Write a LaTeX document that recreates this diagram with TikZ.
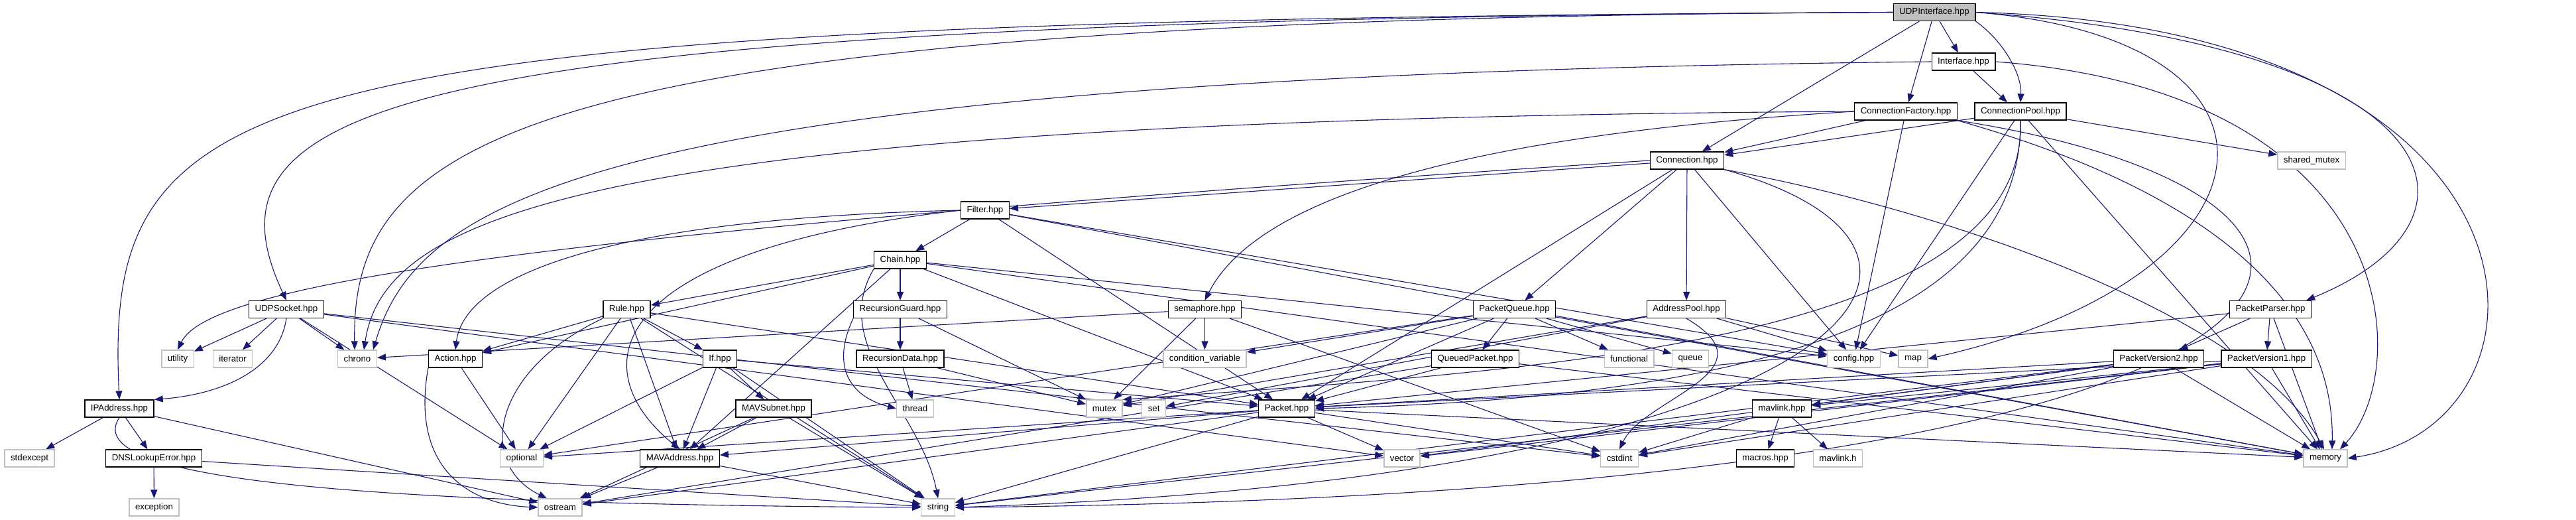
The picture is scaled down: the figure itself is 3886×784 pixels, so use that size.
\documentclass[tikz,border=0pt]{standalone}
\usepackage{fontspec}
\setmainfont{Liberation Sans}
\usetikzlibrary{arrows.meta}
\definecolor{edgeblue}{HTML}{191970}
\definecolor{sysgrey}{HTML}{BFBFBF}
\pgfdeclarelayer{edges}
\pgfsetlayers{edges,main}

\begin{document}
\begin{tikzpicture}[x=1pt, y=-1pt, >={Triangle[length=13pt,width=10pt]},
  file/.style={draw=black, line width=1.3pt, fill=white, minimum height=26pt,
    inner xsep=9pt, inner ysep=0pt, font=\fontsize{13.3}{16}\selectfont},
  sysfile/.style={file, draw=sysgrey},
  rootfile/.style={file, fill=sysgrey},
  dep/.style={->, edgeblue, line width=1.1pt}]
  \useasboundingbox (0,0) rectangle (3886,784);
  % files, one row per include depth
  \node[rootfile] (udpif) at (2918,18.5) {UDPInterface.hpp};
  \node[file] (iface) at (2962,93) {Interface.hpp};
  \node[file] (cfact) at (2875,168) {ConnectionFactory.hpp};
  \node[file] (cpool) at (3048,168) {ConnectionPool.hpp};
  \node[file] (conn) at (2545,242) {Connection.hpp};
  \node[sysfile] (shmutex) at (3487,242) {shared\_mutex};
  \node[file] (filter) at (1486,317) {Filter.hpp};
  \node[file] (chain) at (1358,392) {Chain.hpp};
  \node[file] (udpsock) at (432,466.5) {UDPSocket.hpp};
  \node[file] (rule) at (945.5,466.5) {Rule.hpp};
  \node[file] (rguard) at (1358,466.5) {RecursionGuard.hpp};
  \node[file] (sema) at (1817.5,466.5) {semaphore.hpp};
  \node[file] (pqueue) at (2284.5,466.5) {PacketQueue.hpp};
  \node[file] (apool) at (2544,466.5) {AddressPool.hpp};
  \node[file] (pparser) at (3425,466.5) {PacketParser.hpp};
  \node[sysfile] (utility) at (268,541) {utility};
  \node[sysfile] (iterator) at (351,541) {iterator};
  \node[sysfile] (chrono) at (539,541) {chrono};
  \node[file] (action) at (687,541) {Action.hpp};
  \node[file] (ifhpp) at (1086,541) {If.hpp};
  \node[file] (rdata) at (1358,541) {RecursionData.hpp};
  \node[sysfile] (condvar) at (1817.5,541) {condition\_variable};
  \node[file] (qpacket) at (2225.5,541) {QueuedPacket.hpp};
  \node[sysfile] (functional) at (2457.6,541) {functional};
  \node[sysfile] (queue) at (2550,541) {queue};
  \node[sysfile] (config) at (2796.5,541) {config.hpp};
  \node[sysfile] (map) at (2886,541) {map};
  \node[file] (pv2) at (3256.5,541) {PacketVersion2.hpp};
  \node[file] (pv1) at (3419,541) {PacketVersion1.hpp};
  \node[file] (ipaddr) at (180,616) {IPAddress.hpp};
  \node[file] (mavsubnet) at (1167,616) {MAVSubnet.hpp};
  \node[sysfile] (thread) at (1380.5,616) {thread};
  \node[sysfile] (mutex) at (1666,616) {mutex};
  \node[sysfile] (set) at (1740.6,616) {set};
  \node[file] (packet) at (1941,616) {Packet.hpp};
  \node[file] (mavlinkhpp) at (2688,616) {mavlink.hpp};
  \node[sysfile] (stdexcept) at (44.5,691) {stdexcept};
  \node[file] (dnserr) at (232,691) {DNSLookupError.hpp};
  \node[sysfile] (optional) at (787,691) {optional};
  \node[file] (mavaddr) at (1025.5,691) {MAVAddress.hpp};
  \node[sysfile] (vector) at (2115,691) {vector};
  \node[sysfile] (cstdint) at (2443,691) {cstdint};
  \node[file] (macros) at (2663,691) {macros.hpp};
  \node[sysfile] (mavlinkh) at (2772.5,691) {mavlink.h};
  \node[sysfile] (memory) at (3508,691) {memory};
  \node[sysfile] (exception) at (232.5,765) {exception};
  \node[sysfile] (ostream) at (845,765) {ostream};
  \node[sysfile] (string) at (1415,765) {string};

  \begin{pgfonlayer}{edges}
  % UDPInterface.hpp
  \foreach \t in {iface,cfact,conn} \draw[dep] (udpif) -- (\t);
  \draw[dep] (udpif.south east) .. controls (3020,60) and (3050,110) .. (cpool.north);
  \draw[dep] (udpif.west) .. controls (350,32) and (158,120) .. (ipaddr.north);
  \draw[dep] (udpif.west) .. controls (600,30) and (290,150) .. (udpsock.north);
  \draw[dep] (udpif.west) .. controls (800,28) and (530,200) .. ([xshift=-4pt]chrono.north);
  \draw[dep] (udpif.east) .. controls (3500,60) and (3450,420) .. (map.east);
  \draw[dep] (udpif.east) .. controls (3700,70) and (3780,330) .. ([xshift=-8pt]pparser.north east);
  \draw[dep] (udpif.east) .. controls (3880,40) and (3880,640) .. (memory.east);
  % Interface.hpp
  \draw[dep] (iface) -- ([xshift=-20pt]cpool.north);
  \draw[dep] (iface.west) .. controls (900,115) and (630,300) .. ([xshift=24pt]chrono.north);
  \draw[dep] (iface.east) .. controls (3630,140) and (3640,560) .. ([xshift=22pt]memory.north);
  % ConnectionFactory.hpp
  \foreach \t in {conn,config} \draw[dep] (cfact) -- (\t);
  \draw[dep] (cfact.west) .. controls (900,180) and (580,320) .. ([xshift=10pt]chrono.north);
  \draw[dep] (cfact.west) .. controls (2100,210) and (1880,330) .. (sema.north);
  \draw[dep] (cfact.south east) .. controls (3480,330) and (3520,560) .. ([xshift=10pt]memory.north);
  \draw[dep] (cfact.south east) .. controls (3720,300) and (3650,745) .. (string.east);
  % ConnectionPool.hpp
  \foreach \t in {conn,config,shmutex,memory} \draw[dep] (cpool) -- (\t);
  \draw[dep] (cpool.south) .. controls (3050,500) and (2600,600) .. (packet.east);
  \draw[dep] (cpool.south) .. controls (3060,520) and (2300,560) .. (mutex.north east);
  % Connection.hpp
  \foreach \t in {filter,packet,pqueue,apool,config} \draw[dep] (conn) -- (\t);
  \draw[dep] (conn.west) .. controls (900,345) and (320,420) .. (utility.north);
  \draw[dep] (conn.south east) .. controls (2950,320) and (3400,480) .. ([xshift=-2pt]memory.north);
  \draw[dep] (conn.south east) .. controls (3050,380) and (2800,720) .. (string.east);
  % Filter.hpp
  \foreach \t in {chain,packet,config,memory} \draw[dep] (filter) -- (\t);
  \draw[dep] (filter.west) .. controls (900,330) and (700,420) .. (action.north);
  \draw[dep] (filter.west) .. controls (900,380) and (880,560) .. (mavaddr.north);
  % Chain.hpp
  \foreach \t in {action,rule,mavaddr,rguard,packet,config,memory} \draw[dep] (chain) -- (\t);
  \draw[dep] (chain.south west) .. controls (1250,520) and (1390,620) .. (string.north);
  % Rule.hpp
  \foreach \t in {action,ifhpp,mavaddr,optional,packet,string} \draw[dep] (rule) -- (\t);
  \draw[dep] (rule.south west) .. controls (740,560) and (720,700) .. ([xshift=-20pt]ostream.north);
  % If.hpp
  \foreach \t in {optional,mavaddr,mavsubnet,packet,string} \draw[dep] (ifhpp) -- (\t);
  % Action.hpp
  \draw[dep] (action) -- (optional);
  \draw[dep] (action.south west) .. controls (620,700) and (700,760) .. (ostream.west);
  % MAVSubnet.hpp, MAVAddress.hpp
  \foreach \t in {mavaddr,ostream,string} \draw[dep] (mavsubnet) -- (\t);
  \foreach \t in {ostream,string} \draw[dep] (mavaddr) -- (\t);
  % IPAddress.hpp, DNSLookupError.hpp
  \foreach \t in {stdexcept,dnserr,ostream} \draw[dep] (ipaddr) -- (\t);
  \draw[dep] (ipaddr.south) .. controls (120,720) and (500,760) .. (string.west);
  \foreach \t in {exception,string} \draw[dep] (dnserr) -- (\t);
  % UDPSocket.hpp
  \foreach \t in {utility,iterator,chrono,optional,vector,cstdint} \draw[dep] (udpsock) -- (\t);
  \draw[dep] (udpsock.south) .. controls (420,560) and (330,595) .. (ipaddr.north east);
  % RecursionGuard.hpp, RecursionData.hpp
  \foreach \t in {rdata,mutex} \draw[dep] (rguard) -- (\t);
  \draw[dep] (rguard.south west) .. controls (1250,560) and (1290,600) .. (thread.west);
  \foreach \t in {thread,mutex} \draw[dep] (rdata) -- (\t);
  % semaphore.hpp
  \foreach \t in {chrono,mutex,condvar,cstdint} \draw[dep] (sema) -- (\t);
  % PacketQueue.hpp, QueuedPacket.hpp
  \foreach \t in {optional,condvar,mutex,packet,qpacket,functional,queue,memory} \draw[dep] (pqueue) -- (\t);
  \foreach \t in {packet,memory,ostream} \draw[dep] (qpacket) -- (\t);
  % AddressPool.hpp
  \foreach \t in {mutex,set,config,map} \draw[dep] (apool) -- (\t);
  \draw[dep] (apool.south) .. controls (2680,560) and (2480,600) .. (cstdint.north);
  % Packet.hpp
  \foreach \t in {mavaddr,optional,ostream,string,vector,cstdint,memory} \draw[dep] (packet) -- (\t);
  % PacketParser.hpp and the packet versions
  \foreach \t in {packet,pv2,pv1,memory} \draw[dep] (pparser) -- (\t);
  \foreach \t in {packet,mavlinkhpp,vector,cstdint,string,memory} \draw[dep] (pv2) -- (\t);
  \foreach \t in {packet,mavlinkhpp,vector,cstdint,string,memory} \draw[dep] (pv1) -- (\t);
  % mavlink.hpp
  \foreach \t in {macros,mavlinkh,cstdint} \draw[dep] (mavlinkhpp) -- (\t);
  \end{pgfonlayer}
\end{tikzpicture}
\end{document}
